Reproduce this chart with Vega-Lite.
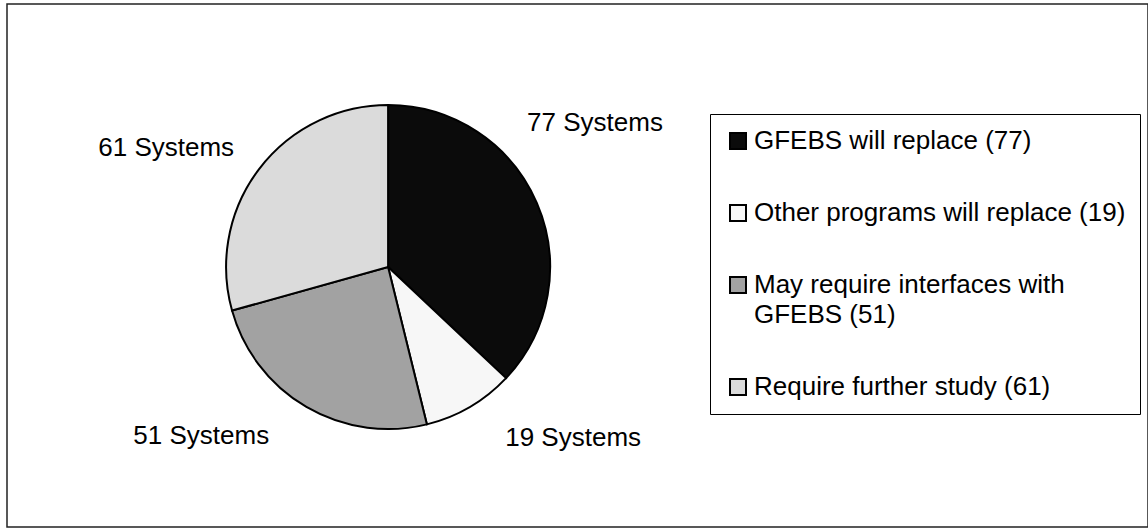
{
  "$schema": "https://vega.github.io/schema/vega-lite/v6.json",
  "width": 1148,
  "height": 528,
  "autosize": {"type": "fit", "contains": "padding"},
  "padding": {"left": 7, "top": 4, "right": 0, "bottom": 1},
  "background": "white",
  "config": {
    "view": {"stroke": "#222222", "strokeWidth": 1.5},
    "font": "Liberation Sans",
    "text": {"font": "Liberation Sans"}
  },
  "data": {
    "values": [
      {"rank": 1, "category": "GFEBS will replace (77)", "count": 77, "slice_label": "77 Systems"},
      {"rank": 2, "category": "Other programs will replace (19)", "count": 19, "slice_label": "19 Systems"},
      {"rank": 3, "category": "May require interfaces with GFEBS (51)", "count": 51, "slice_label": "51 Systems"},
      {"rank": 4, "category": "Require further study (61)", "count": 61, "slice_label": "61 Systems"}
    ]
  },
  "encoding": {
    "x": {"datum": 0.334, "type": "quantitative", "scale": {"domain": [0, 1], "nice": false, "zero": false}, "axis": null},
    "y": {"datum": 0.503, "type": "quantitative", "scale": {"domain": [0, 1], "nice": false, "zero": false, "reverse": true}, "axis": null}
  },
  "layer": [
    {
      "mark": {"type": "arc", "outerRadius": 162, "stroke": "black", "strokeWidth": 2},
      "encoding": {
        "theta": {"field": "count", "type": "quantitative", "stack": true},
        "order": {"field": "rank", "type": "quantitative", "sort": "ascending"},
        "color": {
          "field": "category",
          "type": "nominal",
          "sort": ["GFEBS will replace (77)", "Other programs will replace (19)", "May require interfaces with GFEBS (51)", "Require further study (61)"],
          "scale": {
            "domain": ["GFEBS will replace (77)", "Other programs will replace (19)", "May require interfaces with GFEBS (51)", "Require further study (61)"],
            "range": ["#0b0b0b", "#f7f7f7", "#a2a2a2", "#dbdbdb"]
          },
          "legend": {
            "title": null,
            "orient": "none",
            "legendX": 703,
            "legendY": 110,
            "strokeColor": "#000000",
            "padding": 14,
            "rowPadding": 46,
            "symbolType": "square",
            "symbolSize": 256,
            "symbolStrokeColor": "#000000",
            "symbolStrokeWidth": 2,
            "symbolOpacity": 1,
            "symbolOffset": 1,
            "labelOffset": 3,
            "labelFont": "Liberation Sans",
            "labelFontSize": 26,
            "labelColor": "#000000",
            "labelLimit": 0,
            "labelExpr": "datum.label == 'May require interfaces with GFEBS (51)' ? ['May require interfaces with', 'GFEBS (51)'] : datum.label",
            "encode": {
              "legend": {"update": {"strokeWidth": {"value": 1}}},
              "labels": {
                "update": {
                  "lineHeight": {"value": 30}
                }
              }
            }
          }
        }
      }
    },
    {
      "transform": [{"filter": "datum.count == 77"}],
      "mark": {"type": "text", "radius": 252, "theta": 0.963, "fontSize": 26, "font": "Liberation Sans", "color": "black", "align": "center", "baseline": "middle"},
      "encoding": {"text": {"field": "slice_label"}}
    },
    {
      "transform": [{"filter": "datum.count == 19"}],
      "mark": {"type": "text", "radius": 252, "theta": 2.317, "fontSize": 26, "font": "Liberation Sans", "color": "black", "align": "center", "baseline": "middle"},
      "encoding": {"text": {"field": "slice_label"}}
    },
    {
      "transform": [{"filter": "datum.count == 51"}],
      "mark": {"type": "text", "radius": 252, "theta": 3.977, "fontSize": 26, "font": "Liberation Sans", "color": "black", "align": "center", "baseline": "middle"},
      "encoding": {"text": {"field": "slice_label"}}
    },
    {
      "transform": [{"filter": "datum.count == 61"}],
      "mark": {"type": "text", "radius": 252, "theta": 5.206, "fontSize": 26, "font": "Liberation Sans", "color": "black", "align": "center", "baseline": "middle"},
      "encoding": {"text": {"field": "slice_label"}}
    }
  ]
}
